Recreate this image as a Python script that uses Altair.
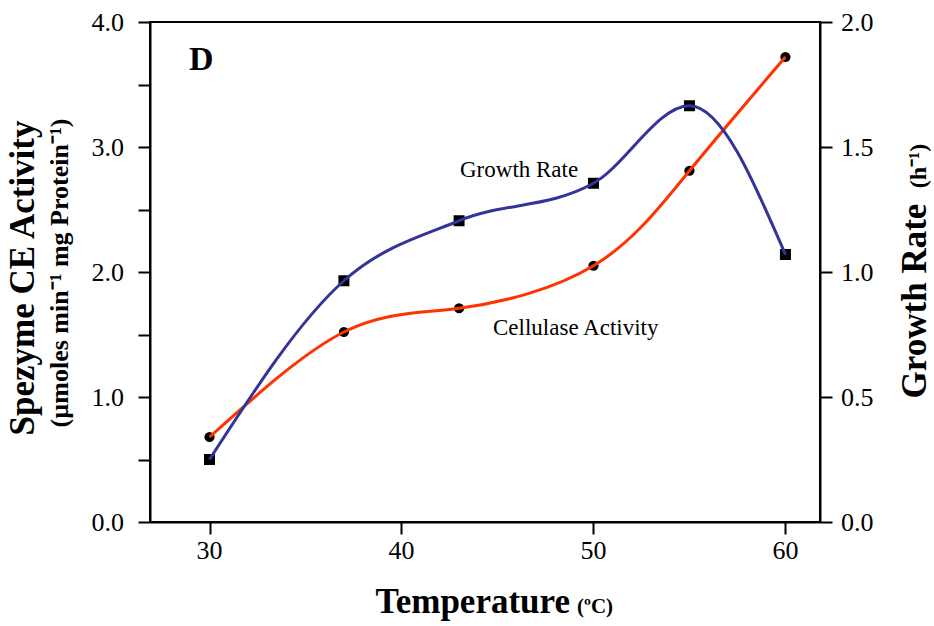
import altair as alt
import pandas as pd

# ---- data ----
temperature = [30, 37, 43, 50, 55, 60]
cellulase = [0.68, 1.52, 1.71, 2.05, 2.81, 3.72]      # left axis
growth = [0.25, 0.965, 1.205, 1.355, 1.665, 1.07]     # right axis

x_ticks = [30, 40, 50, 60]
x_tick_labels = ["30", "40", "50", "60"]
left_ticks = [0, 0.5, 1.0, 1.5, 2.0, 2.5, 3.0, 3.5, 4.0]
left_label_values = [0, 1, 2, 3, 4]
left_tick_labels = ["0.0", "1.0", "2.0", "3.0", "4.0"]
right_ticks = [0, 0.5, 1.0, 1.5, 2.0]
right_tick_labels = ["0.0", "0.5", "1.0", "1.5", "2.0"]

df = pd.DataFrame({"temp": temperature, "cell": cellulase, "growth": growth})
xl = pd.DataFrame({"temp": x_ticks, "t": x_tick_labels})
ll = pd.DataFrame({"cell": left_label_values, "t": left_tick_labels})
rl = pd.DataFrame({"growth": right_ticks, "t": right_tick_labels})

FONT = "Liberation Serif"
RED = "#ff3300"
BLUE = "#333399"

xscale = alt.Scale(domain=[26.9, 61.8], nice=False, zero=False)
xaxis = alt.Axis(values=x_ticks, title=None, labels=False)
laxis = alt.Axis(orient="left", values=left_ticks, title=None, labels=False)
raxis = alt.Axis(orient="right", values=right_ticks, title=None, labels=False)

x_enc = alt.X("temp:Q", scale=xscale, axis=xaxis)
left_y = alt.Y("cell:Q", scale=alt.Scale(domain=[0, 4], nice=False), axis=laxis)
right_y = alt.Y("growth:Q", scale=alt.Scale(domain=[0, 2], nice=False), axis=raxis)

base = alt.Chart(df)
tick_font = dict(font=FONT, fontSize=26, color="black")

left = alt.layer(
    base.mark_point(shape="circle", filled=True, color="black", size=105, opacity=1).encode(x=x_enc, y=left_y),
    base.mark_line(color=RED, strokeWidth=3, interpolate="natural").encode(x=x_enc, y=left_y),
    alt.Chart(ll).mark_text(align="right", baseline="middle", dy=1, **tick_font).encode(
        y=left_y, x=alt.value(-26), text="t:N"),
)
right = alt.layer(
    base.mark_point(shape="square", filled=True, color="black", size=121, opacity=1).encode(x=x_enc, y=right_y),
    base.mark_line(color=BLUE, strokeWidth=3, interpolate="monotone").encode(x=x_enc, y=right_y),
    alt.Chart(rl).mark_text(align="left", baseline="middle", dy=1, **tick_font).encode(
        y=right_y, x=alt.value(691), text="t:N"),
)
xlabels = alt.Chart(xl).mark_text(align="center", baseline="alphabetic", **tick_font).encode(
    x=x_enc, y=alt.value(537), text="t:N")


def label(txt, x, y, size, bold=False, angle=0, align="left", baseline="alphabetic"):
    kw = dict(font=FONT, fontSize=size, color="black", align=align, baseline=baseline)
    if bold:
        kw["fontWeight"] = "bold"
    if angle:
        kw["angle"] = angle
    return alt.Chart(pd.DataFrame({"t": [txt]})).mark_text(**kw).encode(
        text="t:N", x=alt.value(x), y=alt.value(y))


texts = [
    label("D", 39, 48, 34, bold=True),
    label("Growth Rate", 310, 155, 23),
    label("Cellulase Activity", 343, 313, 23),
    label("Temperature", 420, 591, 35, bold=True, align="right"),
    label("(ºC)", 427, 591, 21, bold=True),
    label("Spezyme CE Activity", -116, 256, 35, bold=True, angle=270, align="center"),
    label("(µmoles min⁻¹ mg Protein⁻¹)", -82, 251, 26, bold=True, angle=270, align="center"),
    label("Growth Rate", 776, 279, 35, bold=True, angle=270, align="center"),
    label("(h⁻¹)", 776, 144, 24, bold=True, angle=270, align="center"),
]

chart = alt.layer(left, right, xlabels, *texts).resolve_scale(y="independent").properties(
    width=670, height=500,
    autosize=alt.AutoSizeParams(type="none"),
    padding={"left": 150, "top": 22, "right": 114, "bottom": 104},
).configure(background="white", font=FONT).configure_view(
    stroke="black", strokeWidth=2
).configure_axis(
    tickSize=12, tickWidth=2, tickColor="black", domainColor="black", domainWidth=2, grid=False,
)

chart.save("out.html", embed_options={"renderer": "svg", "actions": False})
